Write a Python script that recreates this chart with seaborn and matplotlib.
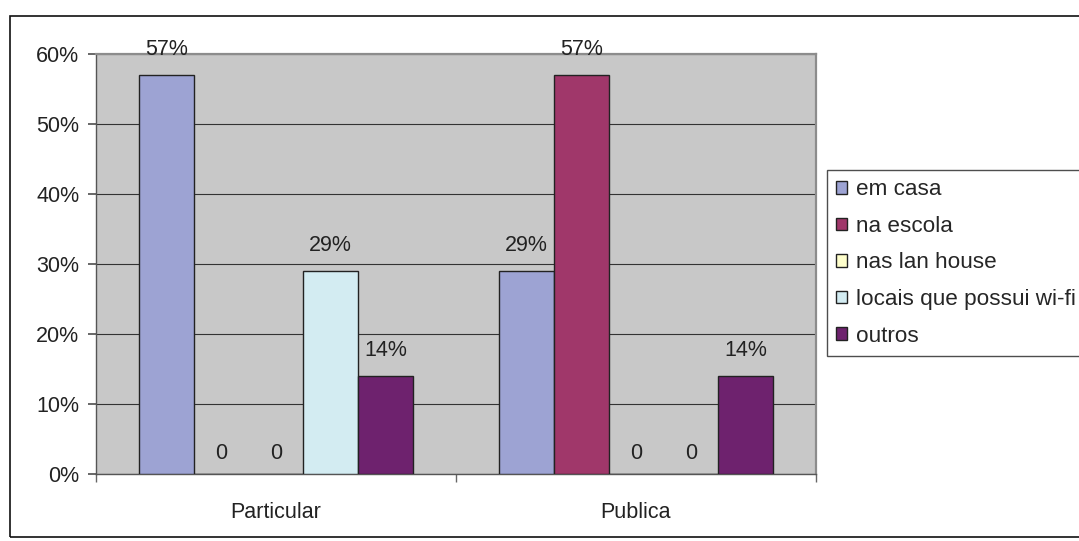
import matplotlib
matplotlib.use("Agg")
import matplotlib.pyplot as plt
import seaborn as sns
import pandas as pd
from matplotlib.patches import Rectangle
from matplotlib.ticker import FixedLocator

groups = ["Particular", "Publica"]
series = ["em casa", "na escola", "nas lan house", "locais que possui wi-fi", "outros"]
values_particular = [57, 0, 0, 29, 14]
values_publica = [29, 57, 0, 0, 14]
colors = ["#9DA3D3", "#A0376A", "#FFFFCC", "#D3ECF2", "#6E226E"]
yticks = [0, 10, 20, 30, 40, 50, 60]

rows = []
for g, vals in zip(groups, [values_particular, values_publica]):
    for s, v in zip(series, vals):
        rows.append({"grupo": g, "local": s, "valor": v})
df = pd.DataFrame(rows)

sns.set_theme(style="white")
plt.rcParams["font.family"] = ["Liberation Sans", "DejaVu Sans"]

FS = 15.5
fig = plt.figure(figsize=(10.79, 5.41), dpi=100)
ax = fig.add_axes([96/1079, 1 - 474/541, 720/1079, 420/541])

sns.barplot(data=df, x="grupo", y="valor", hue="local", order=groups, hue_order=series,
            palette=colors, width=0.76, edgecolor="#222222", linewidth=1.0,
            saturation=1, ax=ax, legend=True, zorder=3)

ax.set_facecolor("#C8C8C8")
ax.set_ylim(0, 60)
ax.set_xlim(-0.5, 1.5)
ax.set_yticks(yticks)
ax.set_yticklabels([f"{t}%" for t in yticks], fontsize=FS, color="#222222")
ax.yaxis.grid(True, color="#333333", linewidth=0.8, zorder=0)
ax.set_axisbelow(True)
ax.set_xlabel("")
ax.set_ylabel("")
ax.tick_params(axis="x", length=0, labelsize=FS, labelcolor="#222222", pad=20)
ax.xaxis.set_minor_locator(FixedLocator([-0.5, 0.5, 1.5]))
ax.tick_params(axis="x", which="minor", length=6, color="#666666", direction="out", bottom=True)
ax.tick_params(axis="y", length=6, color="#555555", direction="out", left=True, pad=6)
for side in ["top", "right"]:
    ax.spines[side].set_color("#8C8C8C")
    ax.spines[side].set_linewidth(1.6)
for side in ["left", "bottom"]:
    ax.spines[side].set_color("#555555")
    ax.spines[side].set_linewidth(1.0)

for cont, s in zip(ax.containers, series):
    vals = [bar.get_height() for bar in cont]
    nz = ["" if h == 0 else f"{h:.0f}%" for h in vals]
    zz = ["0" if h == 0 else "" for h in vals]
    ax.bar_label(cont, labels=nz, padding=11, fontsize=FS, color="#222222")
    ax.bar_label(cont, labels=zz, padding=7, fontsize=FS, color="#222222")

leg = ax.legend(loc="upper left", bbox_to_anchor=(827/1079, 1 - 170/541),
                bbox_transform=fig.transFigure, frameon=True, fancybox=False,
                fontsize=16.2, handlelength=0.47, handleheight=0.47, handletextpad=0.42,
                labelspacing=0.69, borderpad=0.42, borderaxespad=0)
leg.get_frame().set_edgecolor("#222222")
leg.get_frame().set_linewidth(1.0)
for h in leg.legend_handles:
    h.set_edgecolor("#222222")
    h.set_linewidth(1.0)

fig.patches.append(Rectangle((10/1079, 4/541), 1.2, 1 - 20/541, transform=fig.transFigure,
                             fill=False, edgecolor="#111111", linewidth=1.2, figure=fig))

fig.savefig("out.png", dpi=100)
